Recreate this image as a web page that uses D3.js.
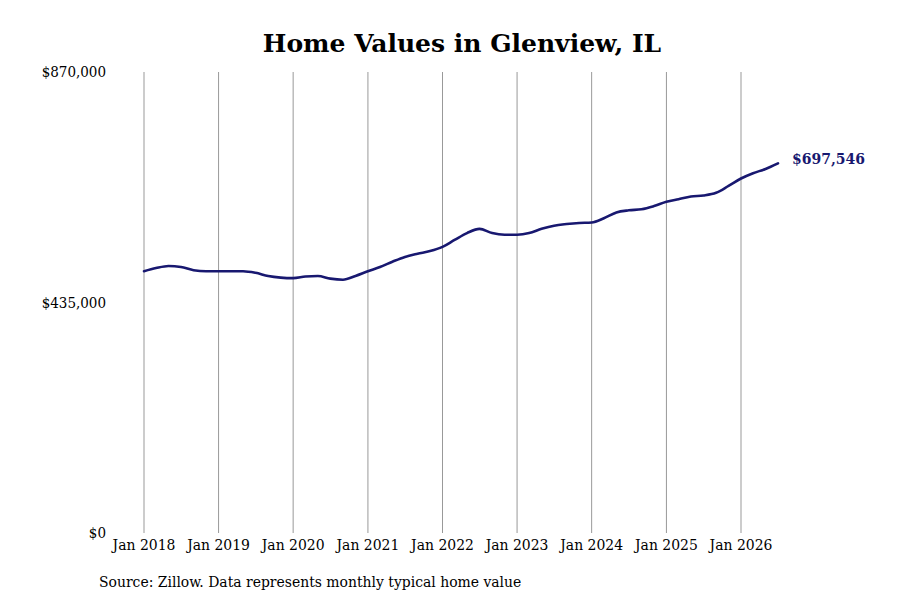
<!DOCTYPE html>
<html>
<head>
<meta charset="utf-8">
<script src="https://cdn.jsdelivr.net/npm/d3@7"></script>
<style>
  body { margin: 0; background: #fff; }
  svg { display: block; font-family: "DejaVu Serif", serif; }
  .cond { font-stretch: condensed; }
</style>
</head>
<body>
<div id="chart"></div>
<script>
// chart text
const title = "Home Values in Glenview, IL";
const source = "Source: Zillow. Data represents monthly typical home value";

// tick labels
const yTicks = [0, 435000, 870000];
const xTickYears = [2018, 2019, 2020, 2021, 2022, 2023, 2024, 2025, 2026];

// dates (every two months) and typical home values
const months = [
  "2018-01", "2018-03", "2018-05", "2018-07", "2018-09", "2018-11",
  "2019-01", "2019-03", "2019-05", "2019-07", "2019-09", "2019-11",
  "2020-01", "2020-03", "2020-05", "2020-07", "2020-09", "2020-11",
  "2021-01", "2021-03", "2021-05", "2021-07", "2021-09", "2021-11",
  "2022-01", "2022-03", "2022-05", "2022-07", "2022-09", "2022-11",
  "2023-01", "2023-03", "2023-05", "2023-07", "2023-09", "2023-11",
  "2024-01", "2024-03", "2024-05", "2024-07", "2024-09", "2024-11",
  "2025-01", "2025-03", "2025-05", "2025-07", "2025-09", "2025-11",
  "2026-01", "2026-03", "2026-05", "2026-07"
];
const values = [
  494000, 500000, 504000, 502000, 496000, 494000,
  494000, 494000, 494000, 491000, 485000, 482000,
  481000, 484000, 485000, 480000, 478000, 485000,
  494000, 502000, 512000, 521000, 527000, 532000,
  540000, 553000, 566000, 574000, 566000, 563000,
  563000, 566000, 574000, 580000, 583000, 585000,
  586000, 594000, 605000, 609000, 611000, 617000,
  625000, 630000, 635000, 637000, 642000, 655000,
  669000, 679000, 687000, 697546
];

const width = 900;
const height = 600;

const parseMonth = d3.timeParse("%Y-%m");
const data = months.map((m, i) => ({ date: parseMonth(m), value: values[i] }));

// scales: Jan 2018 -> 144px, Jan 2026 -> 741px
const x = d3.scaleTime()
    .domain([new Date(2018, 0, 1), new Date(2026, 0, 1)])
    .range([144, 741]);

const y = d3.scaleLinear()
    .domain([0, 870000])
    .range([533, 72]);

const svg = d3.select("#chart")
    .append("svg")
    .attr("width", width)
    .attr("height", height);

// title
svg.append("text")
    .attr("x", 462)
    .attr("y", 52)
    .attr("text-anchor", "middle")
    .attr("font-size", 25)
    .attr("font-weight", "bold")
    .attr("fill", "#000")
    .text(title);

// vertical grid lines, one per January
const gridDates = xTickYears.map(yr => new Date(yr, 0, 1));
svg.append("g")
    .selectAll("line")
    .data(gridDates)
    .enter().append("line")
    .attr("x1", d => x(d))
    .attr("x2", d => x(d))
    .attr("y1", y(870000))
    .attr("y2", y(0))
    .attr("stroke", "#999")
    .attr("stroke-width", 1);

// x axis labels
svg.append("g")
    .selectAll("text")
    .data(gridDates)
    .enter().append("text")
    .attr("class", "cond")
    .attr("x", d => x(d))
    .attr("y", 550)
    .attr("text-anchor", "middle")
    .attr("font-size", 15.5)
    .attr("fill", "#000")
    .text(d3.timeFormat("Jan %Y"));

// y axis labels
svg.append("g")
    .selectAll("text")
    .data(yTicks)
    .enter().append("text")
    .attr("class", "cond")
    .attr("x", 106)
    .attr("y", d => y(d))
    .attr("dy", "0.35em")
    .attr("text-anchor", "end")
    .attr("font-size", 15)
    .attr("fill", "#000")
    .text(d => "$" + d3.format(",")(d));

// the value line
const line = d3.line()
    .x(d => x(d.date))
    .y(d => y(d.value))
    .curve(d3.curveMonotoneX);

svg.append("path")
    .datum(data)
    .attr("d", line)
    .attr("fill", "none")
    .attr("stroke", "#181870")
    .attr("stroke-width", 2.6)
    .attr("stroke-linejoin", "round")
    .attr("stroke-linecap", "round");

// label for the latest value
const last = data[data.length - 1];
svg.append("text")
    .attr("x", x(last.date) + 14)
    .attr("y", y(last.value))
    .attr("dy", "0.05em")
    .attr("font-size", 14)
    .attr("font-weight", "bold")
    .attr("fill", "#181870")
    .text("$" + d3.format(",")(last.value));

// source note
svg.append("text")
    .attr("class", "cond")
    .attr("x", 99)
    .attr("y", 587)
    .attr("font-size", 15.5)
    .attr("fill", "#000")
    .text(source);
</script>
</body>
</html>
